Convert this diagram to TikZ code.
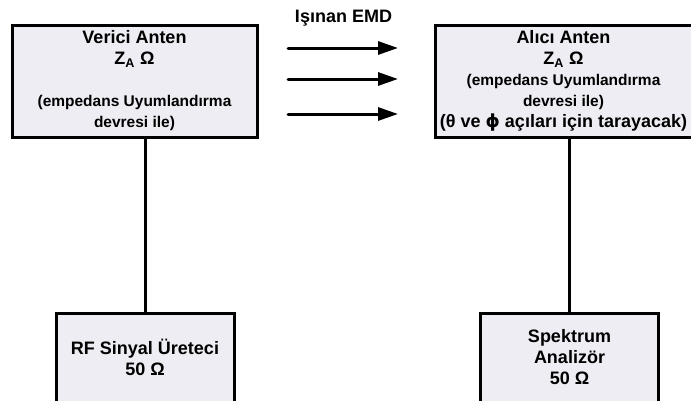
\documentclass[tikz,border=0pt]{standalone}
\usepackage{fontspec}
\setmainfont{Liberation Sans}
\newfontfamily\dejavu{DejaVu Sans}
\usepackage{tikz}
\usetikzlibrary{arrows.meta, positioning}
\definecolor{kutu}{RGB}{238,237,243}
\newcommand{\buyuk}{\fontsize{18}{21}\selectfont}
\newcommand{\kucuk}{\fontsize{15.5}{21}\selectfont}

\begin{document}
\begin{tikzpicture}[
    x=1pt, y=-1pt,
    blok/.style={rectangle, draw, line width=3pt, fill=kutu, align=center, inner sep=0pt, font=\bfseries\buyuk},
    antenblok/.style={blok, minimum height=112pt},
    cihazblok/.style={blok, minimum width=178pt, minimum height=89pt},
    dalga/.style={-{Triangle[length=20pt, width=13pt]}, line width=3pt, line cap=round},
    hat/.style={line width=3pt}
]
\useasboundingbox (0,0) rectangle (691,400);

% Antenler
\node[antenblok, minimum width=245pt] (verici) at (134.5,81) {Verici Anten\\Z\textsubscript{A} Ω\\[21pt]\kucuk (empedans Uyumlandırma\\\kucuk devresi ile)};
\node[antenblok, minimum width=257pt, right=175pt of verici] (alici) {Alıcı Anten\\Z\textsubscript{A} Ω\\\kucuk (empedans Uyumlandırma\\\kucuk devresi ile)\\(θ ve {\dejavu\bfseries ϕ} açıları için tarayacak)};

% Cihazlar
\node[cihazblok] (uretec) at (145,357.5) {RF Sinyal Üreteci\\50 Ω};
\node[cihazblok] (analizor) at (569.5,357.5) {Spektrum\\Analizör\\50 Ω};

% Işıma
\node[font=\bfseries\buyuk] (emd) at (343.5,18) {Işınan EMD};
\foreach \y [count=\i] in {48,79,114} {
    \coordinate (d\i a) at (288,\y);
    \coordinate (d\i b) at (398,\y);
    \draw[dalga] (d\i a) -- (d\i b);
}

% Bağlantılar
\draw[hat] (uretec.north) -- (uretec.north |- verici.south);
\draw[hat] (analizor.north) -- (analizor.north |- alici.south);

\end{tikzpicture}
\end{document}
